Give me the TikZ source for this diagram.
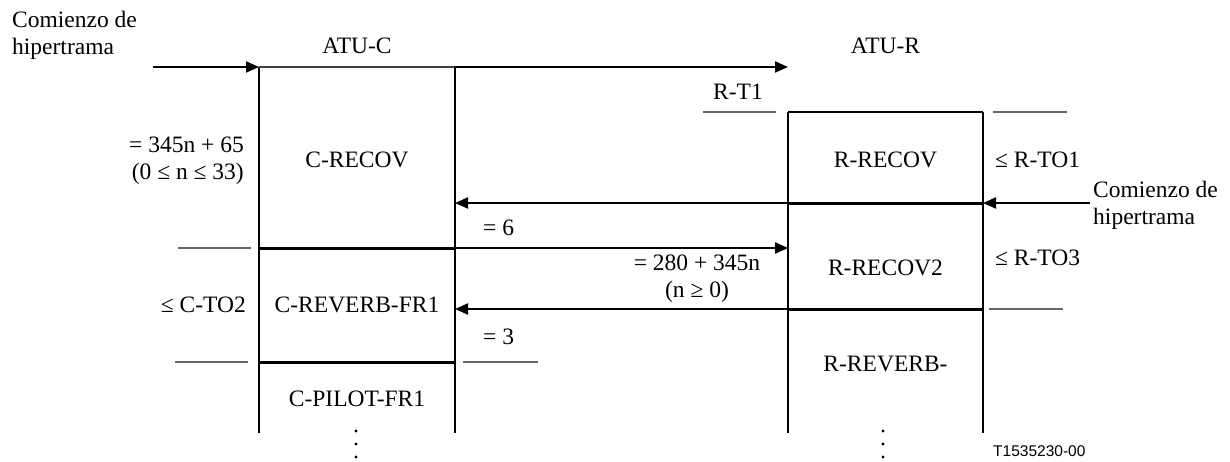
\documentclass[tikz,border=0pt]{standalone}
\usepackage{fontspec}
\setmainfont{Liberation Serif}
\newfontfamily\sansf{Liberation Sans}
\usetikzlibrary{arrows.meta}
\begin{document}
\begin{tikzpicture}[x=1pt,y=-1pt,
 txt/.style={font=\fontsize{23.5}{27}\selectfont, inner sep=0pt},
 seg/.style={inner sep=0pt, outer sep=0pt},
 side/.style={line width=1.8pt},
 divider/.style={line width=3pt},
 arr/.style={line width=2pt, -{Triangle[length=13pt,width=11pt]}},
 tick/.style={line width=1.3pt, black!60},
 dot/.style={fill=black, circle, inner sep=0pt, minimum size=3.2pt},
]
\useasboundingbox (0,0) rectangle (1230,461);
% ATU-C column
\node[seg, minimum width=196pt, minimum height=181pt] (crecov) at (357,157.5) {};
\node[seg, minimum width=196pt, minimum height=114pt] (crev) at (357,305) {};
\node[seg, minimum width=196pt, minimum height=71pt] (cpil) at (357,397.5) {};
% ATU-R column
\node[seg, minimum width=195pt, minimum height=91pt] (rrecov) at (885.5,157.5) {};
\node[seg, minimum width=195pt, minimum height=106pt] (rrecov2) at (885.5,256) {};
\node[seg, minimum width=195pt, minimum height=124pt] (rrev) at (885.5,371) {};

\draw[side] (crecov.north west) -- (cpil.south west);
\draw[side] (crecov.north east) -- (cpil.south east);
\draw[line width=1.6pt, black!75] (crecov.north west) -- (crecov.north east);
\draw[divider] (crecov.south west) -- (crecov.south east);
\draw[divider] (crev.south west) -- (crev.south east);

\draw[side] (rrecov.north west) -- (rrev.south west);
\draw[side] (rrecov.north east) -- (rrev.south east);
\draw[side] (rrecov.north west) -- (rrecov.north east);
\draw[divider] (rrecov.south west) -- (rrecov.south east);
\draw[divider] (rrecov2.south west) -- (rrecov2.south east);

% box texts
\node[txt] (tcrecov) at (357,160) {C-RECOV};
\node[txt] (tcrev) at (357,305) {C-REVERB-FR1};
\node[txt] (tcpil) at (357,399) {C-PILOT-FR1};
\node[txt] (trrecov) at (885.5,160) {R-RECOV};
\node[txt] (trrecov2) at (885.5,268) {R-RECOV2};
\node[txt] (trrev) at (885.5,364) {R-REVERB-};

% arrows
\coordinate (cstart) at (153,67);
\coordinate (t1) at (788,67);
\coordinate (rstart) at (1090,203);
\draw[arr] (cstart) -- (crecov.north west);
\draw[arr] (crecov.north east) -- (t1);
\draw[arr] (rstart) -- (rrecov.south east);
\draw[arr] (rrecov.south west) -- (crecov.east |- rrecov.south west);
\draw[arr] (crecov.south east) -- (rrecov2.west |- crecov.south east);
\draw[arr] (rrecov2.south west) -- (crev.east |- rrecov2.south west);

% tick lines
\draw[tick] (703,112) -- (776,112);
\draw[tick] (993,112) -- (1067,112);
\draw[tick] (178,248) -- (251,248);
\draw[tick] (175,362) -- (248,362);
\draw[tick] (463,362) -- (538,362);
\draw[tick] (989,309) -- (1063,309);

% labels
\node[txt, anchor=west, align=left] (lcom) at (12,35) {Comienzo de\\hipertrama};
\node[txt] (atuc) at (357,46) {ATU-C};
\node[txt] (atur) at (885.5,46) {ATU-R};
\node[txt, anchor=east, align=right] (l345) at (244,161) {= 345n + 65\\(0 ≤ n ≤ 33)};
\node[txt, anchor=east] (lcto2) at (246,305) {≤ C-TO2};
\node[txt, anchor=west] (leq6) at (483,228) {= 6};
\node[txt, anchor=west] (leq3) at (483,337) {= 3};
\node[txt] (lrt1) at (738,92) {R-T1};
\node[txt, anchor=west] (lrto1) at (995,160) {≤ R-TO1};
\node[txt, anchor=west] (lrto3) at (995,258) {≤ R-TO3};
\node[txt, anchor=west, align=left] (rcom) at (1093,205) {Comienzo de\\hipertrama};
\node[txt, align=center] (l280) at (697,279) {= 280 + 345n\\(n ≥ 0)};
\node[font=\sansf\fontsize{15.5}{18}\selectfont, inner sep=0pt, anchor=west] (code) at (993,451) {T1535230-00};

% dots
\node[dot] (cd1) at (356,431) {};
\node[dot] (cd2) at (356,444) {};
\node[dot] (cd3) at (356,457) {};
\node[dot] (rd1) at (883,431) {};
\node[dot] (rd2) at (883,444) {};
\node[dot] (rd3) at (883,457) {};
\end{tikzpicture}
\end{document}
